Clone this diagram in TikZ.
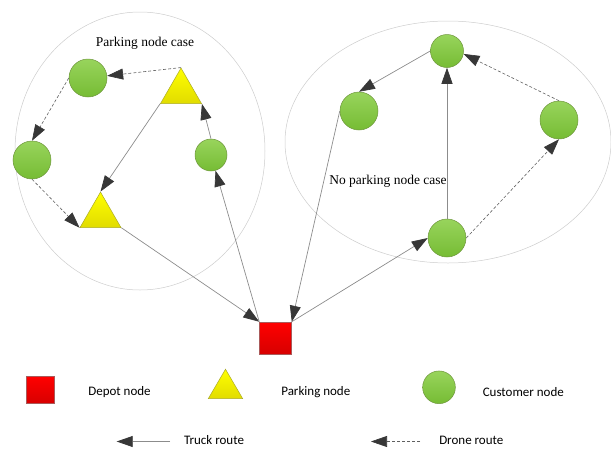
\documentclass[tikz,border=0pt]{standalone}
\usepackage{fontspec}
\setmainfont{Liberation Serif}
\newfontfamily\legendfont{Carlito}
\usetikzlibrary{shapes.geometric,arrows.meta}
\begin{document}
\begin{tikzpicture}[x=1pt,y=-1pt,
  customerfill/.style={draw={rgb,255:red,110;green,150;blue,60},line width=0.5pt,
    top color={rgb,255:red,152;green,212;blue,92},bottom color={rgb,255:red,118;green,188;blue,52}},
  customer/.style={circle,customerfill,minimum size=#1,inner sep=0pt},
  customer/.default=38pt,
  parkingfill/.style={draw={rgb,255:red,170;green,170;blue,40},line width=0.5pt,
    top color={rgb,255:red,255;green,255;blue,0},bottom color={rgb,255:red,225;green,220;blue,0}},
  parking/.style={regular polygon,regular polygon sides=3,parkingfill,
    minimum size=47.3pt,inner sep=0pt},
  depot/.style={rectangle,draw={rgb,255:red,170;green,90;blue,90},line width=0.5pt,
    top color={rgb,255:red,255;green,0;blue,0},bottom color={rgb,255:red,215;green,0;blue,0},
    inner sep=0pt},
  region/.style={draw={rgb,255:red,205;green,205;blue,205},line width=0.5pt},
  tip/.style={-{Triangle[length=16pt,width=11pt,color={rgb,255:red,55;green,55;blue,55}]}},
  truck/.style={tip,draw={rgb,255:red,140;green,140;blue,140},line width=0.7pt},
  drone/.style={tip,draw={rgb,255:red,95;green,95;blue,95},line width=0.6pt,dash pattern=on 3pt off 2pt},
  casetext/.style={font=\fontsize{13.5}{16}\selectfont,inner sep=0pt},
  legendtext/.style={font=\legendfont\fontsize{13}{15}\selectfont,inner sep=0pt}
]
\useasboundingbox (0,0) rectangle (611,448);

% service regions
\draw[region] (140,151) ellipse [x radius=125, y radius=139];
\draw[region] (448,142) ellipse [x radius=163, y radius=121];
\node[casetext] (lblP) at (145,43) {Parking node case};
\node[casetext] (lblN) at (388,181) {No parking node case};

% nodes of the parking case
\node[customer] (cA) at (88,78) {};
\node[parking] (pA) at (181,91.7) {};
\node[customer] (cB) at (32,160) {};
\node[customer=32pt] (cC) at (211,155) {};
\node[parking] (pB) at (100.5,215.7) {};

% depot
\node[depot,minimum width=32pt,minimum height=32pt] (D) at (275.5,338) {};

% nodes of the no-parking case
\node[customer=33pt] (cD) at (447,51) {};
\node[customer] (cE) at (359,111) {};
\node[customer] (cF) at (559,120) {};
\node[customer] (cG) at (447,238) {};

% drone routes
\draw[drone] (pA.corner 1) -- (cA);
\draw[drone] (cA.west) -- (cB.north);
\draw[drone] (cB.south) -- (pB.corner 2);
\draw[drone] (cG.east) -- (cF.south);
\draw[drone] (cF.north) -- (cD.-10);

% truck routes
\draw[truck] (pA.corner 2) -- (pB.corner 1);
\draw[truck] (pB.corner 3) -- (D.north west);
\draw[truck] (D.north west) -- (cC);
\draw[truck] (cC.north) -- (pA.corner 3);
\draw[truck] (D.north east) -- (cG.west);
\draw[truck] (cG.north) -- (cD.south);
\draw[truck] (cD.west) -- (cE.north);
\draw[truck] (cE.west) -- (D.north east);

% legend
\node[depot,minimum width=27.3pt,minimum height=26.7pt] (lD) at (40.3,390) {};
\node[legendtext] (tD) at (119.5,392) {Depot node};
\node[isosceles triangle,isosceles triangle stretches,shape border rotate=90,parkingfill,
  minimum width=34.3pt,minimum height=29.3pt,inner sep=0pt] (lP) at (225.5,388.7) {};
\node[legendtext] (tP) at (315.8,392) {Parking node};
\node[circle,customerfill,minimum size=32.7pt,inner sep=0pt] (lC) at (439,387.3) {};
\node[legendtext] (tC) at (523.3,392) {Customer node};

\coordinate (tA) at (170,441.5);
\coordinate (hA) at (116.7,441.5);
\draw[truck] (tA) -- (hA);
\node[legendtext] (tT) at (214,440) {Truck route};
\coordinate (tB) at (420,441.5);
\coordinate (hB) at (371,441.5);
\draw[drone] (tB) -- (hB);
\node[legendtext] (tR) at (471.3,440) {Drone route};
\end{tikzpicture}
\end{document}
